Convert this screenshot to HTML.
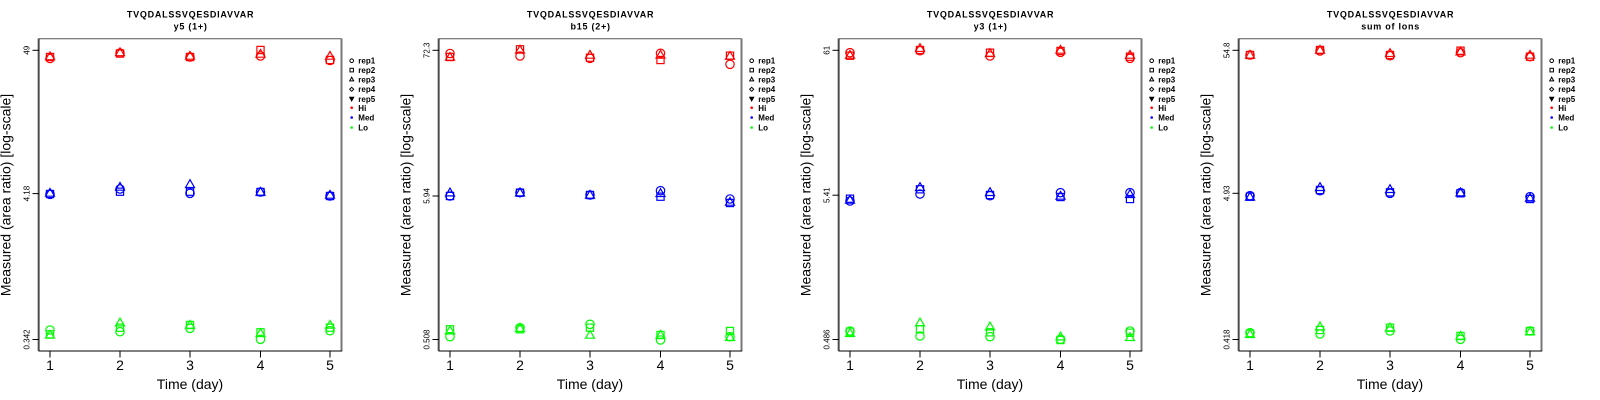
<!DOCTYPE html>
<html><head><meta charset="utf-8"><style>
html,body{margin:0;padding:0;background:#fff;}
svg{display:block;}
text{font-family:"Liberation Sans",Arial,sans-serif;fill:#000;}
.tt{font-size:9px;font-weight:bold;letter-spacing:0.75px;}
.yl{font-size:8px;}
.xl{font-size:14px;}
.lg{font-size:8px;font-weight:bold;}
</style></head><body>
<svg width="1600" height="400" viewBox="0 0 1600 400" xmlns="http://www.w3.org/2000/svg">
<defs>
<circle id="c" r="4.2"/>
<rect id="s" x="-3.6" y="-3.6" width="7.2" height="7.2"/>
<path id="t" d="M0,-4.6 L4.5,3.2 L-4.5,3.2 Z"/>
<g id="frame">
  <line x1="38" y1="38.5" x2="38" y2="351" stroke="#888" stroke-width="1"/>
  <line x1="39" y1="38.7" x2="341.7" y2="38.7" stroke="#555" stroke-width="1"/>
  <line x1="341.5" y1="38.5" x2="341.5" y2="351.5" stroke="#777" stroke-width="2"/>
  <line x1="39" y1="38.5" x2="39" y2="351.5" stroke="#111" stroke-width="1"/>
  <line x1="38.5" y1="351" x2="342" y2="351" stroke="#000" stroke-width="1"/>
  <g stroke="#000" stroke-width="1">
    <line x1="50" y1="351" x2="50" y2="357.5"/>
    <line x1="120" y1="351" x2="120" y2="357.5"/>
    <line x1="190" y1="351" x2="190" y2="357.5"/>
    <line x1="260.5" y1="351" x2="260.5" y2="357.5"/>
    <line x1="330" y1="351" x2="330" y2="357.5"/>
  </g>
  <g class="xl" text-anchor="middle">
    <text x="50" y="370">1</text><text x="120" y="370">2</text><text x="190" y="370">3</text><text x="260.5" y="370">4</text><text x="330" y="370">5</text>
    <text x="190" y="389">Time (day)</text>
    <text x="195" y="10.5" transform="rotate(-90 195 10.5) translate(-195 -10.5) translate(0 0)" style="display:none">x</text>
  </g>
  <text class="xl" text-anchor="middle" transform="translate(10.5 195) rotate(-90)">Measured (area ratio) [log-scale]</text>
  <g fill="none" stroke="#000" stroke-width="1">
    <circle cx="351.7" cy="60.7" r="1.8"/>
    <rect x="350" y="68.3" width="3.4" height="3.6"/>
    <path d="M351.7,77.2 L353.7,80.9 L349.7,80.9 Z"/>
    <path d="M351.7,87.3 L353.7,89.3 L351.7,91.3 L349.7,89.3 Z"/>
    <path d="M351.7,100.9 L353.7,97.2 L349.7,97.2 Z" fill="#000"/>
  </g>
  <circle cx="351.7" cy="107.7" r="1.3" fill="#ff0000"/>
  <circle cx="351.7" cy="117.5" r="1.3" fill="#0000ff"/>
  <circle cx="351.7" cy="127.5" r="1.3" fill="#00ff00"/>
  <g class="lg">
    <text x="358.3" y="63.7">rep1</text>
    <text x="358.3" y="73.1">rep2</text>
    <text x="358.3" y="82.5">rep3</text>
    <text x="358.3" y="92.2">rep4</text>
    <text x="358.3" y="101.9">rep5</text>
    <text x="358.3" y="110.8">Hi</text>
    <text x="358.3" y="120.6">Med</text>
    <text x="358.3" y="130.6">Lo</text>
  </g>
</g>
</defs>

<!-- Panel 1 -->
<g>
  <use href="#frame"/>
  <text class="tt" x="190.6" y="17.3" text-anchor="middle">TVQDALSSVQESDIAVVAR</text>
  <text class="tt" x="190.6" y="29.5" text-anchor="middle">y5 (1+)</text>
  <g stroke="#000" stroke-width="1">
    <line x1="32.5" y1="50.3" x2="39" y2="50.3"/><line x1="32.5" y1="193.6" x2="39" y2="193.6"/><line x1="32.5" y1="339.5" x2="39" y2="339.5"/>
  </g>
  <g class="yl" text-anchor="middle">
    <text transform="translate(29.5 50.3) rotate(-90)">49</text>
    <text transform="translate(29.5 193.6) rotate(-90)">4.18</text>
    <text transform="translate(29.5 339.5) rotate(-90)">0.342</text>
  </g>
  <g fill="none" stroke="#ff0000" stroke-width="1.2">
    <use href="#c" x="50" y="58.5"/><use href="#s" x="50" y="57"/><use href="#t" x="50" y="56.5"/>
    <use href="#c" x="120" y="53"/><use href="#s" x="120" y="53.5"/><use href="#t" x="120" y="52.5"/>
    <use href="#c" x="190" y="57"/><use href="#s" x="190" y="57"/><use href="#t" x="190" y="56"/>
    <use href="#c" x="260.5" y="56"/><use href="#s" x="260.5" y="50"/><use href="#t" x="260.5" y="54"/>
    <use href="#c" x="330" y="60.5"/><use href="#s" x="330" y="60"/><use href="#t" x="330" y="56"/>
  </g>
  <g fill="none" stroke="#0000ff" stroke-width="1.2">
    <use href="#c" x="50" y="194.3"/><use href="#s" x="50" y="194"/><use href="#t" x="50" y="193"/>
    <use href="#c" x="120" y="189"/><use href="#s" x="120" y="191.7"/><use href="#t" x="120" y="187"/>
    <use href="#c" x="190" y="193.3"/><use href="#s" x="190" y="191.7"/><use href="#t" x="190" y="184.3"/>
    <use href="#c" x="260.5" y="192"/><use href="#s" x="260.5" y="192"/><use href="#t" x="260.5" y="192"/>
    <use href="#c" x="330" y="196"/><use href="#s" x="330" y="196"/><use href="#t" x="330" y="195"/>
  </g>
  <g fill="none" stroke="#00ff00" stroke-width="1.2">
    <use href="#c" x="50" y="330"/><use href="#s" x="50" y="334.3"/><use href="#t" x="50" y="335"/>
    <use href="#c" x="120" y="331.7"/><use href="#s" x="120" y="327.7"/><use href="#t" x="120" y="322.7"/>
    <use href="#c" x="190" y="328.3"/><use href="#s" x="190" y="325"/><use href="#t" x="190" y="325"/>
    <use href="#c" x="260.5" y="339.3"/><use href="#s" x="260.5" y="332.3"/><use href="#t" x="260.5" y="333.3"/>
    <use href="#c" x="330" y="330.7"/><use href="#s" x="330" y="327.7"/><use href="#t" x="330" y="325"/>
  </g>
</g>

<!-- Panel 2 -->
<g transform="translate(400 0)">
  <use href="#frame"/>
  <text class="tt" x="190.6" y="17.3" text-anchor="middle">TVQDALSSVQESDIAVVAR</text>
  <text class="tt" x="190.6" y="29.5" text-anchor="middle">b15 (2+)</text>
  <g stroke="#000" stroke-width="1">
    <line x1="32.5" y1="50.3" x2="39" y2="50.3"/><line x1="32.5" y1="196" x2="39" y2="196"/><line x1="32.5" y1="339.5" x2="39" y2="339.5"/>
  </g>
  <g class="yl" text-anchor="middle">
    <text transform="translate(29.5 50.3) rotate(-90)">72.3</text>
    <text transform="translate(29.5 196) rotate(-90)">5.94</text>
    <text transform="translate(29.5 339.5) rotate(-90)">0.508</text>
  </g>
  <g fill="none" stroke="#ff0000" stroke-width="1.2">
    <use href="#c" x="50" y="53.5"/><use href="#s" x="50" y="57"/><use href="#t" x="50" y="57"/>
    <use href="#c" x="120" y="56"/><use href="#s" x="120" y="49.3"/><use href="#t" x="120" y="50"/>
    <use href="#c" x="190" y="58.3"/><use href="#s" x="190" y="57.7"/><use href="#t" x="190" y="55"/>
    <use href="#c" x="260.5" y="53.3"/><use href="#s" x="260.5" y="60"/><use href="#t" x="260.5" y="55"/>
    <use href="#c" x="330" y="64.3"/><use href="#s" x="330" y="55.7"/><use href="#t" x="330" y="56"/>
  </g>
  <g fill="none" stroke="#0000ff" stroke-width="1.2">
    <use href="#c" x="50" y="196"/><use href="#s" x="50" y="196"/><use href="#t" x="50" y="192.7"/>
    <use href="#c" x="120" y="192.7"/><use href="#s" x="120" y="192.7"/><use href="#t" x="120" y="192.7"/>
    <use href="#c" x="190" y="195"/><use href="#s" x="190" y="195"/><use href="#t" x="190" y="195"/>
    <use href="#c" x="260.5" y="190.7"/><use href="#s" x="260.5" y="196.7"/><use href="#t" x="260.5" y="193.3"/>
    <use href="#c" x="330" y="199"/><use href="#s" x="330" y="203"/><use href="#t" x="330" y="202"/>
  </g>
  <g fill="none" stroke="#00ff00" stroke-width="1.2">
    <use href="#c" x="50" y="336.7"/><use href="#s" x="50" y="329.3"/><use href="#t" x="50" y="330.7"/>
    <use href="#c" x="120" y="327.7"/><use href="#s" x="120" y="329.3"/><use href="#t" x="120" y="328.3"/>
    <use href="#c" x="190" y="324.3"/><use href="#s" x="190" y="327.7"/><use href="#t" x="190" y="335"/>
    <use href="#c" x="260.5" y="340"/><use href="#s" x="260.5" y="335"/><use href="#t" x="260.5" y="335"/>
    <use href="#c" x="330" y="336.7"/><use href="#s" x="330" y="331"/><use href="#t" x="330" y="337.3"/>
  </g>
</g>

<!-- Panel 3 -->
<g transform="translate(800 0)">
  <use href="#frame"/>
  <text class="tt" x="190.6" y="17.3" text-anchor="middle">TVQDALSSVQESDIAVVAR</text>
  <text class="tt" x="190.6" y="29.5" text-anchor="middle">y3 (1+)</text>
  <g stroke="#000" stroke-width="1">
    <line x1="32.5" y1="50.3" x2="39" y2="50.3"/><line x1="32.5" y1="195.2" x2="39" y2="195.2"/><line x1="32.5" y1="339.5" x2="39" y2="339.5"/>
  </g>
  <g class="yl" text-anchor="middle">
    <text transform="translate(29.5 50.3) rotate(-90)">61</text>
    <text transform="translate(29.5 195.2) rotate(-90)">5.41</text>
    <text transform="translate(29.5 339.5) rotate(-90)">0.486</text>
  </g>
  <g fill="none" stroke="#ff0000" stroke-width="1.2">
    <use href="#c" x="50" y="52.7"/><use href="#s" x="50" y="55.7"/><use href="#t" x="50" y="55"/>
    <use href="#c" x="120" y="50.7"/><use href="#s" x="120" y="50"/><use href="#t" x="120" y="48.3"/>
    <use href="#c" x="190" y="56"/><use href="#s" x="190" y="52.7"/><use href="#t" x="190" y="53.3"/>
    <use href="#c" x="260.5" y="52.3"/><use href="#s" x="260.5" y="51"/><use href="#t" x="260.5" y="50"/>
    <use href="#c" x="330" y="58.3"/><use href="#s" x="330" y="56.7"/><use href="#t" x="330" y="55"/>
  </g>
  <g fill="none" stroke="#0000ff" stroke-width="1.2">
    <use href="#c" x="50" y="201"/><use href="#s" x="50" y="198.7"/><use href="#t" x="50" y="200"/>
    <use href="#c" x="120" y="194"/><use href="#s" x="120" y="189.3"/><use href="#t" x="120" y="187.3"/>
    <use href="#c" x="190" y="195.7"/><use href="#s" x="190" y="195"/><use href="#t" x="190" y="192.3"/>
    <use href="#c" x="260.5" y="192.7"/><use href="#s" x="260.5" y="197"/><use href="#t" x="260.5" y="196"/>
    <use href="#c" x="330" y="192.7"/><use href="#s" x="330" y="199"/><use href="#t" x="330" y="194.3"/>
  </g>
  <g fill="none" stroke="#00ff00" stroke-width="1.2">
    <use href="#c" x="50" y="331"/><use href="#s" x="50" y="331.7"/><use href="#t" x="50" y="333.3"/>
    <use href="#c" x="120" y="336"/><use href="#s" x="120" y="329.3"/><use href="#t" x="120" y="322.7"/>
    <use href="#c" x="190" y="336.7"/><use href="#s" x="190" y="332.3"/><use href="#t" x="190" y="326.7"/>
    <use href="#c" x="260.5" y="339.3"/><use href="#s" x="260.5" y="340"/><use href="#t" x="260.5" y="336.7"/>
    <use href="#c" x="330" y="331"/><use href="#s" x="330" y="332.7"/><use href="#t" x="330" y="337.3"/>
  </g>
</g>

<!-- Panel 4 -->
<g transform="translate(1200 0)">
  <use href="#frame"/>
  <text class="tt" x="190.6" y="17.3" text-anchor="middle">TVQDALSSVQESDIAVVAR</text>
  <text class="tt" x="190.6" y="29.5" text-anchor="middle">sum of Ions</text>
  <g stroke="#000" stroke-width="1">
    <line x1="32.5" y1="50.3" x2="39" y2="50.3"/><line x1="32.5" y1="193.3" x2="39" y2="193.3"/><line x1="32.5" y1="339.5" x2="39" y2="339.5"/>
  </g>
  <g class="yl" text-anchor="middle">
    <text transform="translate(29.5 50.3) rotate(-90)">54.8</text>
    <text transform="translate(29.5 193.3) rotate(-90)">4.93</text>
    <text transform="translate(29.5 339.5) rotate(-90)">0.418</text>
  </g>
  <g fill="none" stroke="#ff0000" stroke-width="1.2">
    <use href="#c" x="50" y="55"/><use href="#s" x="50" y="55"/><use href="#t" x="50" y="55"/>
    <use href="#c" x="120" y="51"/><use href="#s" x="120" y="50"/><use href="#t" x="120" y="50"/>
    <use href="#c" x="190" y="55.7"/><use href="#s" x="190" y="55"/><use href="#t" x="190" y="53.3"/>
    <use href="#c" x="260.5" y="52.7"/><use href="#s" x="260.5" y="50.7"/><use href="#t" x="260.5" y="51.7"/>
    <use href="#c" x="330" y="56.7"/><use href="#s" x="330" y="56.7"/><use href="#t" x="330" y="55"/>
  </g>
  <g fill="none" stroke="#0000ff" stroke-width="1.2">
    <use href="#c" x="50" y="195.7"/><use href="#s" x="50" y="196.7"/><use href="#t" x="50" y="197"/>
    <use href="#c" x="120" y="190.7"/><use href="#s" x="120" y="190"/><use href="#t" x="120" y="187.3"/>
    <use href="#c" x="190" y="193.3"/><use href="#s" x="190" y="192.3"/><use href="#t" x="190" y="189.3"/>
    <use href="#c" x="260.5" y="192.7"/><use href="#s" x="260.5" y="193.3"/><use href="#t" x="260.5" y="192.7"/>
    <use href="#c" x="330" y="196.7"/><use href="#s" x="330" y="199"/><use href="#t" x="330" y="198"/>
  </g>
  <g fill="none" stroke="#00ff00" stroke-width="1.2">
    <use href="#c" x="50" y="332.7"/><use href="#s" x="50" y="333.7"/><use href="#t" x="50" y="334.3"/>
    <use href="#c" x="120" y="334"/><use href="#s" x="120" y="330"/><use href="#t" x="120" y="326.7"/>
    <use href="#c" x="190" y="331"/><use href="#s" x="190" y="327.7"/><use href="#t" x="190" y="327.7"/>
    <use href="#c" x="260.5" y="339.3"/><use href="#s" x="260.5" y="336"/><use href="#t" x="260.5" y="336"/>
    <use href="#c" x="330" y="331"/><use href="#s" x="330" y="331"/><use href="#t" x="330" y="331.7"/>
  </g>
</g>
</svg>
</body></html>
